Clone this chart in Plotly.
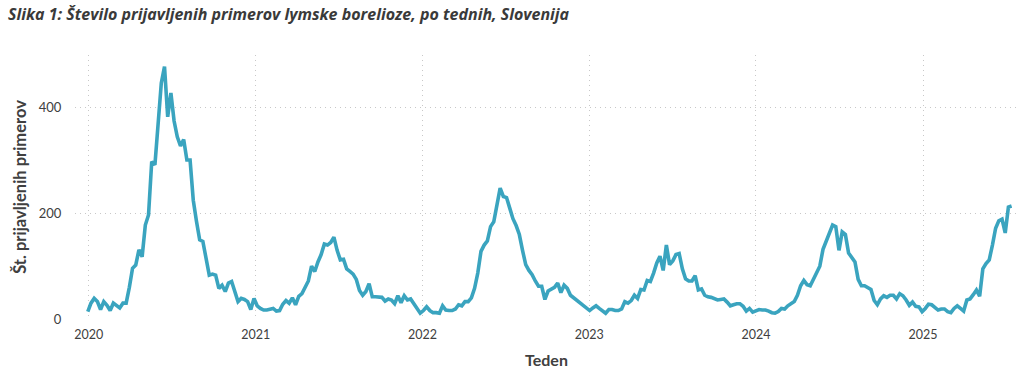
import pandas as pd
import plotly.graph_objects as go

# Weekly counts (ISO weeks)
values_2020 = [14, 30, 39, 33, 18, 33, 26, 16, 30, 25, 21, 30, 30, 60, 96, 102, 131, 118, 178, 197,
               298, 292, 371, 447, 478, 383, 428, 375, 345, 328, 340, 301, 301, 225, 185, 150, 147, 115, 83, 85,
               83, 58, 64, 52, 68, 71, 50, 33, 39, 37, 33, 18, 39]
values_2021 = [25, 20, 17, 17, 18, 20, 15, 16, 28, 35, 30, 40, 27, 43, 48, 60, 72, 100, 90, 108,
               122, 142, 140, 145, 155, 130, 112, 113, 95, 90, 85, 75, 54, 45, 52, 67, 42, 42, 42, 41,
               34, 38, 36, 29, 44, 31, 44, 36, 38, 28, 18, 11]
values_2022 = [16, 23, 16, 12, 12, 11, 25, 17, 16, 16, 19, 27, 25, 33, 33, 40, 58, 87, 128, 140,
               148, 175, 184, 213, 248, 232, 230, 210, 190, 177, 160, 130, 103, 92, 84, 72, 62, 62, 37, 53,
               56, 60, 68, 50, 64, 58, 45, 40, 35, 30, 25, 20]
values_2023 = [16, 21, 25, 20, 15, 11, 18, 18, 16, 16, 19, 33, 30, 35, 45, 39, 56, 55, 73, 71,
               87, 106, 119, 92, 140, 103, 110, 122, 124, 95, 76, 72, 72, 82, 55, 57, 45, 42, 41, 38,
               36, 37, 38, 32, 25, 27, 29, 29, 24, 15, 20, 13]
values_2024 = [15, 18, 17, 17, 15, 12, 11, 14, 20, 19, 25, 29, 33, 45, 63, 73, 65, 63, 75, 89,
               100, 132, 148, 160, 178, 175, 130, 165, 160, 125, 116, 108, 75, 63, 63, 60, 56, 35, 27, 38,
               44, 41, 45, 45, 38, 48, 44, 36, 26, 32, 24, 23]
values_2025 = [14, 20, 28, 27, 22, 17, 19, 19, 14, 12, 20, 25, 20, 15, 36, 38, 46, 55, 43, 95,
               105, 112, 140, 172, 186, 189, 163, 212, 214]

first_week_start = "2019-12-30"  # Monday of ISO week 1, 2020
year_ticks = ["2020-01-01", "2021-01-01", "2022-01-01", "2023-01-01", "2024-01-01", "2025-01-01"]
year_labels = ["2020", "2021", "2022", "2023", "2024", "2025"]
y_ticks = [0, 200, 400]

values = values_2020 + values_2021 + values_2022 + values_2023 + values_2024 + values_2025
weeks = pd.date_range(first_week_start, periods=len(values), freq="7D")

FONT = "Lato"
TITLE_FONT = "Open Sans"
GRID = dict(showgrid=True, gridcolor="#c8c8c8", griddash="1px,4px", gridwidth=1.2)

fig = go.Figure(
    go.Scatter(x=weeks, y=values, mode="lines",
               line=dict(color="#3AA4BF", width=3.6), hoverinfo="x+y")
)

fig.update_layout(
    width=1023, height=384, autosize=False,
    margin=dict(l=75, r=5, t=55, b=65),
    paper_bgcolor="white", plot_bgcolor="white",
    showlegend=False,
    font=dict(family=FONT, color="#404040"),
    title=dict(
        text="Slika 1: Število prijavljenih primerov lymske borelioze, po tednih, Slovenija",
        x=8 / 1023, xref="container", xanchor="left",
        y=1 - 14 / 384, yref="container", yanchor="middle",
        font=dict(family=TITLE_FONT, size=16, color="#3a3a3a", weight="bold", style="italic"),
    ),
)

fig.update_xaxes(
    type="date",
    range=["2019-12-02", "2025-07-28"],
    tickvals=year_ticks, ticktext=year_labels,
    tickfont=dict(family=FONT, size=12.5, color="#404040"),
    ticks="outside", ticklen=4, tickcolor="rgba(0,0,0,0)",
    zeroline=False, showline=False,
    title=dict(text="<b>Teden</b>", font=dict(family=FONT, size=16, color="#404040"), standoff=13),
    **GRID,
)

fig.update_yaxes(
    range=[0, 500],
    tickvals=y_ticks,
    tickfont=dict(family=FONT, size=13, color="#404040"),
    ticks="outside", ticklen=10, tickcolor="rgba(0,0,0,0)",
    zeroline=False, showline=False,
    title=dict(text="<b>Št. prijavljenih primerov</b>", font=dict(family=FONT, size=16.5, color="#404040"), standoff=8),
    **GRID,
)

fig.write_html(
    "out.html",
    config={"displayModeBar": False},
    post_script="document.body.style.margin='0';document.body.style.overflow='hidden';",
)
